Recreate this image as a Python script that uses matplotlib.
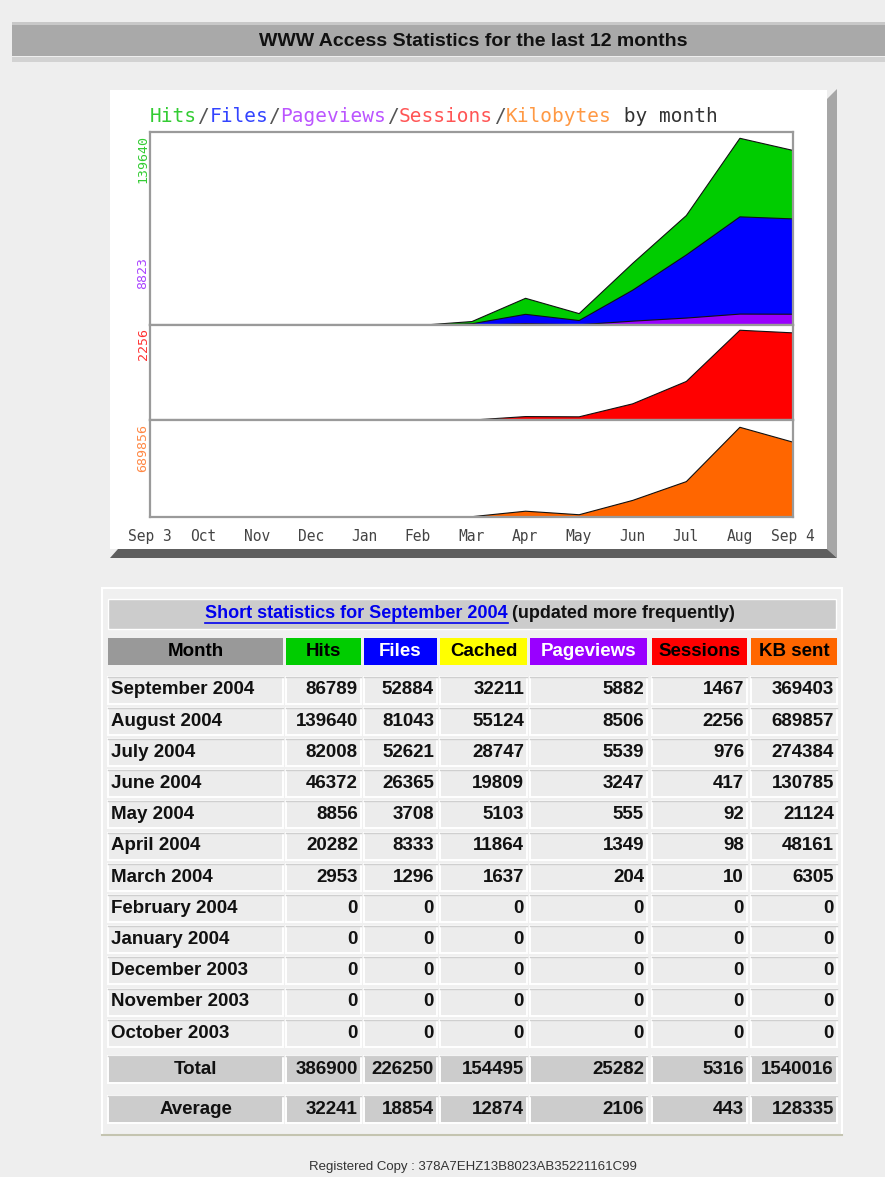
import matplotlib
matplotlib.use("Agg")
import matplotlib.pyplot as plt
from matplotlib.patches import Rectangle, Polygon

W, H = 885, 1177

# chart data, Sep 2003 .. Sep 2004 (last point)
chart_months = ["Sep 3", "Oct", "Nov", "Dec", "Jan", "Feb", "Mar", "Apr",
                "May", "Jun", "Jul", "Aug", "Sep 4"]
chart_hits = [0, 0, 0, 0, 0, 0, 2953, 20282, 8856, 46372, 82008, 139640, 130500]
chart_files = [0, 0, 0, 0, 0, 0, 1296, 8333, 3708, 26365, 52621, 81043, 79500]
chart_pages = [0, 0, 0, 0, 0, 0, 204, 1349, 555, 3247, 5539, 8506, 8400]
chart_sessions = [0, 0, 0, 0, 0, 0, 10, 98, 92, 417, 976, 2256, 2190]
chart_kbytes = [0, 0, 0, 0, 0, 0, 6305, 48161, 21124, 130785, 274384, 689857, 575000]
axis_labels = ["139640", "8823", "2256", "689856"]

# table data
months = ["September 2004", "August 2004", "July 2004", "June 2004", "May 2004",
          "April 2004", "March 2004", "February 2004", "January 2004",
          "December 2003", "November 2003", "October 2003"]
hits = [86789, 139640, 82008, 46372, 8856, 20282, 2953, 0, 0, 0, 0, 0]
files = [52884, 81043, 52621, 26365, 3708, 8333, 1296, 0, 0, 0, 0, 0]
cached = [32211, 55124, 28747, 19809, 5103, 11864, 1637, 0, 0, 0, 0, 0]
pageviews = [5882, 8506, 5539, 3247, 555, 1349, 204, 0, 0, 0, 0, 0]
sessions = [1467, 2256, 976, 417, 92, 98, 10, 0, 0, 0, 0, 0]
kbytes = [369403, 689857, 274384, 130785, 21124, 48161, 6305, 0, 0, 0, 0, 0]
totals = [386900, 226250, 154495, 25282, 5316, 1540016]
averages = [32241, 18854, 12874, 2106, 443, 128335]

headers = ["Month", "Hits", "Files", "Cached", "Pageviews", "Sessions", "KB sent"]
head_bg = ["#999999", "#00cc00", "#0000ff", "#ffff00", "#9900ff", "#ff0000", "#ff6600"]
head_fg = ["black", "black", "white", "black", "white", "black", "black"]

SANS = ["Liberation Sans", "DejaVu Sans"]
MONO = ["DejaVu Sans Mono"]

fig = plt.figure(figsize=(W / 100, H / 100), dpi=100, facecolor="#eeeeee")
bg = fig.add_axes([0, 0, 1, 1])
bg.set_xlim(0, W)
bg.set_ylim(H, 0)
bg.axis("off")


def rect(x0, y0, x1, y1, **kw):
    bg.add_patch(Rectangle((x0, y0), x1 - x0, y1 - y0, **kw))


def px_axes(x0, y0, x1, y1):
    return fig.add_axes([x0 / W, 1 - y1 / H, (x1 - x0) / W, (y1 - y0) / H])


# page header bar
rect(12, 22, W, 25, facecolor="#c8c8c8", lw=0)
rect(12, 25, W, 56, facecolor="#a9a9a9", lw=0)
rect(12, 57, W, 62, facecolor="#d2d2d2", lw=0)
bg.text(473, 41, "WWW Access Statistics for the last 12 months", ha="center",
        va="center", fontsize=14, fontweight="bold", family=SANS, color="#111111")

# graph box with shadow
rect(110, 90, 827, 549, facecolor="white", lw=0)
bg.add_patch(Polygon([(827, 99), (837, 89), (837, 558), (827, 549)],
                     closed=True, facecolor="#a6a6a6", lw=0))
bg.add_patch(Polygon([(110, 558), (118, 549), (827, 549), (837, 558)],
                     closed=True, facecolor="#5e5e5e", lw=0))

# graph title in colours
cw = 11.85
x = 150
for part, col in [("Hits", "#33cc33"), ("/", "#555555"), ("Files", "#3344ff"),
                  ("/", "#555555"), ("Pageviews", "#bb55ff"), ("/", "#555555"),
                  ("Sessions", "#ff5555"), ("/", "#555555"), ("Kilobytes", "#ff9944"),
                  (" by month", "#333333")]:
    bg.text(x, 117, part, ha="left", va="center", fontsize=14, family=MONO, color=col)
    x += len(part) * cw

xs = list(range(len(chart_months)))
panels = [(132, 325), (325, 420), (420, 517)]
axes = []
for (top, bot) in panels:
    a = px_axes(150, top, 793, bot)
    a.set_xlim(0, len(xs) - 1)
    a.set_facecolor("white")
    for s in a.spines.values():
        s.set_color("#9a9a9a")
        s.set_linewidth(1.6)
    a.set_yticks([])
    a.tick_params(length=0)
    axes.append(a)


def area(a, ys, color):
    start = max(0, next(i for i, v in enumerate(ys) if v > 0) - 1)
    a.fill_between(xs[start:], ys[start:], 0, facecolor=color,
                   edgecolor="#111111", linewidth=0.8)


area(axes[0], chart_hits, "#00cc00")
area(axes[0], chart_files, "#0000ff")
area(axes[0], chart_pages, "#9900ff")
axes[0].set_ylim(0, max(chart_hits) / 0.97)
area(axes[1], chart_sessions, "#ff0000")
axes[1].set_ylim(0, max(chart_sessions) / 0.95)
area(axes[2], chart_kbytes, "#ff6600")
axes[2].set_ylim(0, max(chart_kbytes) / 0.93)

axes[0].set_xticks([])
axes[1].set_xticks([])
axes[2].set_xticks(xs)
axes[2].set_xticklabels(chart_months, fontsize=10.5, family=MONO, color="#444444")
axes[2].tick_params(axis="x", pad=9)

for lab, y, col in zip(axis_labels, [135, 257, 328, 424],
                       ["#33cc33", "#aa44ff", "#ff3333", "#ff8844"]):
    bg.text(143, y, lab, rotation=90, ha="center", va="top", fontsize=9.5,
            family=MONO, color=col)

# statistics table
rect(102, 588, 842, 1135, facecolor="#f0f0f0", edgecolor="white", lw=1.5)
bg.plot([102, 842], [1135, 1135], color="#c4c4b0", lw=1.5)

rect(108, 599, 836, 629, facecolor="#cccccc", edgecolor="white", lw=1)
link = bg.text(508, 614, "Short statistics for September 2004", ha="right",
               va="center", fontsize=13, fontweight="bold", family=SANS, color="#0000ee")
bg.text(512, 614, "(updated more frequently)", ha="left", va="center",
        fontsize=13, fontweight="bold", family=SANS, color="#111111")

cols = [(108, 283), (286, 361), (364, 437), (440, 527), (530, 647), (652, 747), (751, 837)]
for (c0, c1), name, bgc, fgc in zip(cols, headers, head_bg, head_fg):
    rect(c0, 638, c1, 665, facecolor=bgc, lw=0)
    bg.text((c0 + c1) / 2, 652, name, ha="center", va="center", fontsize=13.5,
            fontweight="bold", family=SANS, color=fgc)


def row(yc, label, values, face, center_label=False):
    for (c0, c1) in cols:
        rect(c0, yc - 13.5, c1, yc + 13.5, facecolor=face, edgecolor="white", lw=1.4)
        bg.plot([c0, c1], [yc - 13.5, yc - 13.5], color="#cfcfcf", lw=1)
    c0, c1 = cols[0]
    if center_label:
        bg.text((c0 + c1) / 2, yc, label, ha="center", va="center", fontsize=13.5,
                fontweight="bold", family=SANS, color="#111111")
    else:
        bg.text(c0 + 3, yc, label, ha="left", va="center", fontsize=13.5,
                fontweight="bold", family=SANS, color="#111111")
    for (c0, c1), v in zip(cols[1:], values):
        bg.text(c1 - 3, yc, str(v), ha="right", va="center", fontsize=13.5,
                fontweight="bold", family=SANS, color="#111111")


for i, m in enumerate(months):
    vals = [hits[i], files[i], cached[i], pageviews[i], sessions[i], kbytes[i]]
    row(690 + i * 31.2, m, vals, "#ececec")

row(1069, "Total", totals, "#cccccc", center_label=True)
row(1109, "Average", averages, "#cccccc", center_label=True)

bg.text(473, 1167, "Registered Copy : 378A7EHZ13B8023AB35221161C99", ha="center",
        va="center", fontsize=9.5, family=SANS, color="#333333")

# underline the link
fig.canvas.draw()
bb = link.get_window_extent().transformed(bg.transData.inverted())
bg.plot([bb.x0, bb.x1], [623, 623], color="#0000ee", lw=1.2)

fig.savefig("out.png", dpi=100, facecolor=fig.get_facecolor())
